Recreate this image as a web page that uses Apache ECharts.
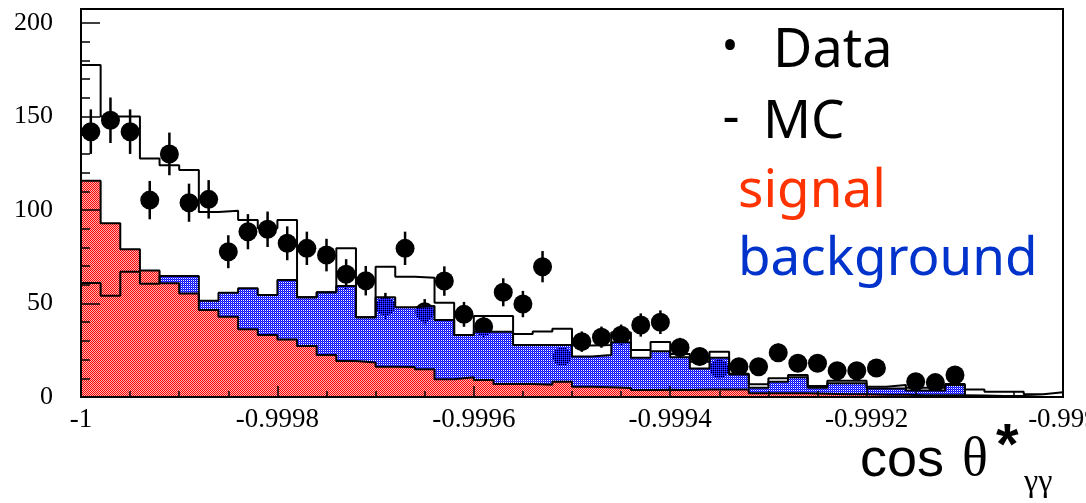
<!DOCTYPE html>
<html>
<head>
<meta charset="utf-8">
<script src="https://cdn.jsdelivr.net/npm/echarts@6/dist/echarts.min.js"></script>
<style>
  html, body { margin: 0; padding: 0; background: #fff; }
  #chart { width: 1086px; height: 503px; }
</style>
</head>
<body>
<div id="chart"></div>
<script>
// Histogram binning: 50 bins over cos(theta*) in [-1, -0.999]
const binLow = -1;
const binHigh = -0.999;
const nBins = 50;

// Simulated signal (red)
const signal = [
  115.7, 92.9, 79, 67.6, 60.8, 55.4, 46.5, 42.9, 36.2, 33.2,
  30.8, 27.3, 22.5, 19.3, 18.4, 16.2, 16, 14.8, 9.5, 10.5,
  9.1, 7, 7, 6.5, 8.2, 5.5, 5.2, 4.8, 3.7, 3.9,
  3.7, 4, 4, 4, 2, 2, 2, 1.8, 1.5, 1.5,
  1.2, 1.2, 1, 1, 1, 0.8, 0.6, 0.5, 0, 0
];

// Simulated background (blue)
const background = [
  61, 54.2, 67, 60.5, 64.7, 64.7, 51.5, 55.8, 58.1, 54.5,
  62.6, 53.3, 56, 59.4, 42.6, 53.3, 48, 48.7, 41.2, 33.2,
  34.9, 34.9, 27.8, 27.8, 27.8, 21.6, 22.5, 29.3, 21, 24.5,
  21.2, 15.3, 21, 12, 5, 8.2, 10.5, 5, 7.3, 7.3,
  4.6, 4.6, 3.5, 3.5, 6.4, 0.5, 0.3, 0.3, 0, 0
];

// Total MC (black outline)
const mcTotal = [
  177.5, 150, 150, 127.6, 124, 121.4, 99, 99.6, 94.6, 90.2,
  94.7, 53.3, 56, 79.5, 42.6, 69.7, 64.3, 63.8, 50.4, 33.2,
  43.3, 43.3, 33.7, 35, 36.5, 27.5, 27.8, 34.5, 25.1, 29.4,
  23, 18.9, 24.2, 12.5, 6.8, 10, 11.8, 5.9, 8.7, 8.7,
  5.5, 6.4, 5, 5, 7, 4, 2.8, 2.8, 1.5, 2.5
];

// Data counts per bin (null = empty bin)
const dataCounts = [
  141.9, 148, 141.9, 105.3, 130, 103.9, 105.7, 77.7, 88.4, 89.7,
  82.2, 79.5, 75.9, 65.6, 62.2, 48.7, 79.5, 45.6, 62, 44.2,
  37.6, 56, 49.7, 69.7, 21.6, 29.6, 32, 33, 38.5, 40,
  26.5, 21.7, 15, 16.2, 16.2, 23.7, 18, 18, 14, 14,
  15.5, null, 8.2, 7.7, 11.8, null, null, null, null, null
];

// Axis tick labels
const xTickLabels = ['-1', '-0.9998', '-0.9996', '-0.9994', '-0.9992', '-0.999'];
const yTickLabels = ['0', '50', '100', '150', '200'];

const binWidth = (binHigh - binLow) / nBins;
const xStep = (binHigh - binLow) / (xTickLabels.length - 1);
const yStep = 50;
const yMax = 207.5;

// Histogram outline as step points at bin edges
function stepData(vals) {
  const pts = vals.map((v, i) => [binLow + i * binWidth, v]);
  pts.push([binHigh, vals[vals.length - 1]]);
  return pts;
}

// Fine 2x2 checker fill like ROOT hatch styles (null = transparent pixel)
function checker(p00, p10, p01, p11) {
  const cv = document.createElement('canvas');
  cv.width = 2; cv.height = 2;
  const g = cv.getContext('2d');
  [[p00, 0, 0], [p10, 1, 0], [p01, 0, 1], [p11, 1, 1]].forEach(([c, x, y]) => {
    if (c) { g.fillStyle = c; g.fillRect(x, y, 1, 1); }
  });
  return cv;
}
const redFill = { image: checker('#ff0000', '#ffb4b4', '#ffb4b4', '#ff0000'), repeat: 'repeat' };
const blueFill = { image: checker('#0000ff', null, '#5050ff', '#0000ff'), repeat: 'repeat' };

const dataPoints = [];
dataCounts.forEach((v, i) => {
  if (v != null) dataPoints.push([binLow + (i + 0.5) * binWidth, v, Math.sqrt(v)]);
});

const chart = echarts.init(document.getElementById('chart'), null, { renderer: 'canvas' });

const serif = '"Liberation Serif", "Times New Roman", serif';
const sans = '"Liberation Sans", Arial, sans-serif';
const hand = '"Noto Sans", "DejaVu Sans", sans-serif';

chart.setOption({
  animation: false,
  backgroundColor: '#fff',
  grid: {
    left: 81, right: 23, top: 9, bottom: 106,
    containLabel: false, outerBoundsMode: 'none',
    show: true, borderColor: '#000', borderWidth: 2, backgroundColor: 'transparent'
  },
  xAxis: {
    type: 'value', min: binLow, max: binHigh, interval: xStep, z: 10,
    axisLine: { lineStyle: { color: '#000', width: 2 } },
    axisTick: { inside: true, length: 11, lineStyle: { color: '#000', width: 1.5 } },
    minorTick: { show: true, splitNumber: 4, length: 6, lineStyle: { color: '#000', width: 1.5 } },
    splitLine: { show: false },
    axisLabel: {
      color: '#000', fontFamily: serif, fontSize: 27, margin: 9, hideOverlap: false,
      formatter: v => xTickLabels[Math.round((v - binLow) / xStep)] || ''
    }
  },
  yAxis: [
    {
      type: 'value', min: 0, max: yMax, interval: 10, position: 'left', z: 10,
      axisLine: { show: true, lineStyle: { color: '#000', width: 2 } },
      axisTick: { inside: true, length: 9, lineStyle: { color: '#000', width: 1.5 } },
      axisLabel: { show: false },
      splitLine: { show: false }
    },
    {
      type: 'value', min: 0, max: yMax, interval: yStep, position: 'left', offset: 0, z: 10,
      axisLine: { show: false },
      axisTick: { inside: true, length: 19, lineStyle: { color: '#000', width: 1.5 } },
      splitLine: { show: false },
      axisLabel: {
        color: '#000', fontFamily: serif, fontSize: 26, margin: 28,
        formatter: v => (v % yStep === 0 ? (yTickLabels[v / yStep] || '') : '')
      }
    }
  ],
  series: [
    {
      name: 'Data', type: 'custom', z: 1, data: dataPoints,
      renderItem: (params, api) => {
        const x = api.value(0), y = api.value(1), e = api.value(2);
        const c = api.coord([x, y]);
        const t = api.coord([x, y + e]);
        const b = api.coord([x, y - e]);
        return {
          type: 'group',
          children: [
            { type: 'line', shape: { x1: c[0], y1: t[1], x2: c[0], y2: b[1] }, style: { stroke: '#000', lineWidth: 2.5 } },
            { type: 'circle', shape: { cx: c[0], cy: c[1], r: 9.5 }, style: { fill: '#000' } }
          ]
        };
      }
    },
    {
      name: 'background fill', type: 'line', step: 'end', z: 2, symbol: 'none',
      data: stepData(background),
      lineStyle: { width: 0, opacity: 0 },
      areaStyle: { color: blueFill, opacity: 1 }
    },
    {
      name: 'signal', type: 'line', step: 'end', z: 3, symbol: 'none',
      data: stepData(signal),
      lineStyle: { color: '#000', width: 2 },
      areaStyle: { color: redFill, opacity: 1 }
    },
    {
      name: 'background', type: 'line', step: 'end', z: 4, symbol: 'none',
      data: stepData(background),
      lineStyle: { color: '#000', width: 2 }
    },
    {
      name: 'MC', type: 'line', step: 'end', z: 5, symbol: 'none',
      data: stepData(mcTotal),
      lineStyle: { color: '#000', width: 2 }
    }
  ],
  graphic: [
    { type: 'text', x: 730, y: 48, z: 20, style: { text: '\u2022', font: '44px ' + hand, fill: '#000', textAlign: 'center', textVerticalAlign: 'middle' } },
    { type: 'text', x: 773, y: 52, z: 20, style: { text: 'Data', font: '54px ' + hand, fill: '#000', textAlign: 'left', textVerticalAlign: 'middle' } },
    { type: 'text', x: 731, y: 119, z: 20, style: { text: '-', font: '53px ' + hand, fill: '#000', textAlign: 'center', textVerticalAlign: 'middle' } },
    { type: 'text', x: 763, y: 123, z: 20, style: { text: 'MC', font: '53px ' + hand, fill: '#000', textAlign: 'left', textVerticalAlign: 'middle' } },
    { type: 'text', x: 738, y: 192, z: 20, style: { text: 'signal', font: '53px ' + hand, fill: '#ff3300', textAlign: 'left', textVerticalAlign: 'middle' } },
    { type: 'text', x: 738, y: 260, z: 20, style: { text: 'background', font: '53px ' + hand, fill: '#0033cc', textAlign: 'left', textVerticalAlign: 'middle' } },
    { type: 'text', x: 860, y: 461, z: 20, style: { text: 'cos', font: '54px ' + sans, fill: '#000', textAlign: 'left', textVerticalAlign: 'middle' } },
    { type: 'text', x: 962, y: 461, z: 20, style: { text: '\u03B8', font: '54px ' + serif, fill: '#000', textAlign: 'left', textVerticalAlign: 'middle' } },
    { type: 'text', x: 996, y: 448, z: 20, style: { text: '*', font: 'bold 58px ' + sans, fill: '#000', textAlign: 'left', textVerticalAlign: 'middle' } },
    { type: 'text', x: 1024, y: 483, z: 20, style: { text: '\u03B3\u03B3', font: '32px ' + serif, fill: '#000', textAlign: 'left', textVerticalAlign: 'middle' } }
  ]
});
</script>
</body>
</html>
